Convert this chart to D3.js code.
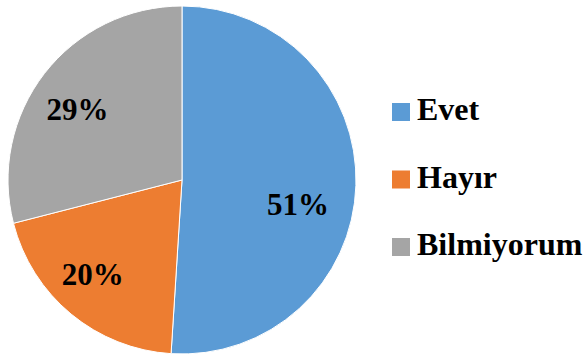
<!DOCTYPE html>
<html><head><meta charset="utf-8">
<script src="https://cdn.jsdelivr.net/npm/d3@7"></script>
<style>html,body{margin:0;padding:0;background:#fff;}svg{display:block;}
.t{font-family:"Liberation Serif","Times New Roman",serif;font-weight:bold;fill:#000;}
</style>
</head><body>
<svg id="chart" width="584" height="360"></svg>
<script>
const categories = ["Evet", "Hayır", "Bilmiyorum"];
const values = [51, 20, 29];
const labels = ["51%", "20%", "29%"];
const colors = ["#5B9BD5", "#ED7D31", "#A5A5A5"];

const svg = d3.select("#chart");
const cx = 182, cy = 180, R = 174;
const pie = d3.pie().sort(null).value(d => d)(values);
const arc = d3.arc().innerRadius(0).outerRadius(R);
const labelArc = d3.arc().innerRadius(126).outerRadius(126);
const color = d3.scaleOrdinal().domain(categories).range(colors);

const g = svg.append("g").attr("transform", `translate(${cx},${cy})`);
g.selectAll("path").data(pie).join("path")
  .attr("d", arc)
  .attr("fill", (d, i) => color(categories[i]))
  .attr("stroke", "#fff").attr("stroke-width", 1);

// small nudges (to baseline) matching the spreadsheet's "best fit" label placement
const nudge = [[-10, 31], [-9, 8], [-5, 17]];
g.selectAll("text").data(pie).join("text")
  .attr("class", "t")
  .attr("transform", (d, i) => {
    const c = labelArc.centroid(d);
    return `translate(${c[0] + nudge[i][0]},${c[1] + nudge[i][1]})`;
  })
  .attr("text-anchor", "middle")
  .attr("font-size", 31)
  .text((d, i) => labels[i]);

const legendY = d3.scalePoint().domain(categories).range([120, 255]);
const lg = svg.append("g");
const item = lg.selectAll("g").data(categories).join("g")
  .attr("transform", d => `translate(392,${legendY(d)})`);
item.append("rect").attr("x", 0).attr("y", -17).attr("width", 18).attr("height", 18)
  .attr("fill", d => color(d));
item.append("text").attr("class", "t").attr("x", 25).attr("y", 0)
  .attr("font-size", 32)
  .text(d => d);
</script>
</body></html>
